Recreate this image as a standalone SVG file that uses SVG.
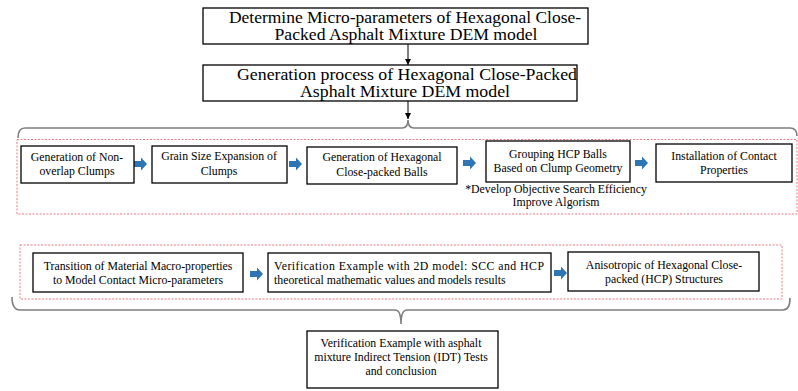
<svg xmlns="http://www.w3.org/2000/svg" width="798" height="391" viewBox="0 0 798 391">
  <style>
    .box { fill: #ffffff; stroke: #000000; stroke-width: 1.3; }
    text { fill: #000000; text-anchor: middle; }
    .big { font-size: 16px; }
    .sm { font-size: 11.8px; }
    .group { fill: none; stroke: #f07a80; stroke-width: 1; stroke-dasharray: 2 1.5; }
    .brace { fill: none; stroke: #7f7f7f; stroke-width: 1.6; }
    .link { fill: none; stroke: #000000; stroke-width: 1; }
    .step { fill: #2e75b6; }
  </style>
  <defs>
    <marker id="head" viewBox="0 0 10 10" refX="10" refY="5" markerWidth="6" markerHeight="6" markerUnits="userSpaceOnUse" orient="auto">
      <path d="M0,0 L10,5 L0,10 z" fill="#000000"/>
    </marker>
    <path id="blockArrow" d="M0,-3 L7,-3 L7,-6.5 L13,0 L7,6.5 L7,3 L0,3 z"/>
  </defs>

  <rect width="798" height="391" fill="#ffffff"/>

  <!-- dashed group frames -->
  <rect class="group" x="17" y="139.5" width="780" height="74.5"/>
  <rect class="group" x="20" y="245" width="762" height="54"/>

  <!-- connectors -->
  <g id="connectors">
    <line class="link" x1="408" y1="44" x2="408" y2="65" marker-end="url(#head)"/>
    <line class="link" x1="408" y1="101" x2="408" y2="119" marker-end="url(#head)"/>
    <path class="brace" d="M18,138 Q18,128 25,128 L402,128 Q408,128 408,120 Q408,128 414,128 L790,128 Q797,128 797,136"/>
    <path class="brace" d="M12,297 Q12,310 20,310 L395,310 Q401,310 401,324 Q401,310 407,310 L783,310 Q790,310 790,298"/>
    <use href="#blockArrow" class="step" x="134" y="164"/>
    <use href="#blockArrow" class="step" x="289" y="164"/>
    <use href="#blockArrow" class="step" x="463" y="163"/>
    <use href="#blockArrow" class="step" x="635" y="163"/>
    <use href="#blockArrow" class="step" x="250" y="274"/>
    <use href="#blockArrow" class="step" x="554" y="273"/>
  </g>

  <g font-family="Liberation Serif, Times New Roman, serif">
    <g id="determine">
      <rect class="box" x="203" y="8" width="385" height="36"/>
      <text class="big" x="405" y="22.5" textLength="352" lengthAdjust="spacingAndGlyphs">Determine Micro-parameters of Hexagonal Close-</text>
      <text class="big" x="406" y="40.3" textLength="263" lengthAdjust="spacingAndGlyphs">Packed Asphalt Mixture DEM model</text>
    </g>

    <g id="generation">
      <rect class="box" x="203" y="65" width="374" height="36"/>
      <text class="big" x="407" y="79.5" textLength="340" lengthAdjust="spacingAndGlyphs">Generation process of Hexagonal Close-Packed</text>
      <text class="big" x="405" y="97.3" textLength="210" lengthAdjust="spacingAndGlyphs">Asphalt Mixture DEM model</text>
    </g>

    <g id="clumps">
      <rect class="box" x="21" y="146" width="113" height="37"/>
      <text class="sm" x="77" y="160.5">Generation of Non-</text>
      <text class="sm" x="77" y="174.5">overlap Clumps</text>
    </g>

    <g id="expansion">
      <rect class="box" x="152" y="146" width="135" height="37"/>
      <text class="sm" x="219" y="160">Grain Size Expansion of</text>
      <text class="sm" x="219" y="174.5">Clumps</text>
    </g>

    <g id="hcpballs">
      <rect class="box" x="307" y="147" width="150" height="37"/>
      <text class="sm" x="382" y="161">Generation of Hexagonal</text>
      <text class="sm" x="382" y="175.5">Close-packed Balls</text>
    </g>

    <g id="grouping">
      <rect class="box" x="486" y="141" width="144" height="41"/>
      <text class="sm" x="558" y="158">Grouping HCP Balls</text>
      <text class="sm" x="558" y="172">Based on Clump Geometry</text>
      <text class="sm" x="556" y="193">*Develop Objective Search Efficiency</text>
      <text class="sm" x="556" y="206">Improve Algorism</text>
    </g>

    <g id="contact">
      <rect class="box" x="656" y="144" width="136" height="38"/>
      <text class="sm" x="724" y="160">Installation of Contact</text>
      <text class="sm" x="724" y="174">Properties</text>
    </g>

    <g id="transition">
      <rect class="box" x="33" y="253" width="210" height="39"/>
      <text class="sm" x="138" y="269.5">Transition of Material Macro-properties</text>
      <text class="sm" x="138" y="284">to Model Contact Micro-parameters</text>
    </g>

    <g id="verification2d">
      <rect class="box" x="268" y="253" width="283" height="39"/>
      <text class="sm" x="274" y="269.5" text-anchor="start" style="text-anchor:start" textLength="270" lengthAdjust="spacing">Verification Example with 2D model: SCC and HCP</text>
      <text class="sm" x="274" y="284" text-anchor="start" style="text-anchor:start">theoretical mathematic values and models results</text>
    </g>

    <g id="anisotropic">
      <rect class="box" x="568" y="252" width="191" height="39"/>
      <text class="sm" x="664" y="268.5">Anisotropic of Hexagonal Close-</text>
      <text class="sm" x="664" y="283">packed (HCP) Structures</text>
    </g>

    <g id="idt">
      <rect class="box" x="307" y="331" width="191" height="57"/>
      <text class="sm" x="401" y="347">Verification Example with asphalt</text>
      <text class="sm" x="401" y="361">mixture Indirect Tension (IDT) Tests</text>
      <text class="sm" x="401" y="375">and conclusion</text>
    </g>
  </g>
</svg>
